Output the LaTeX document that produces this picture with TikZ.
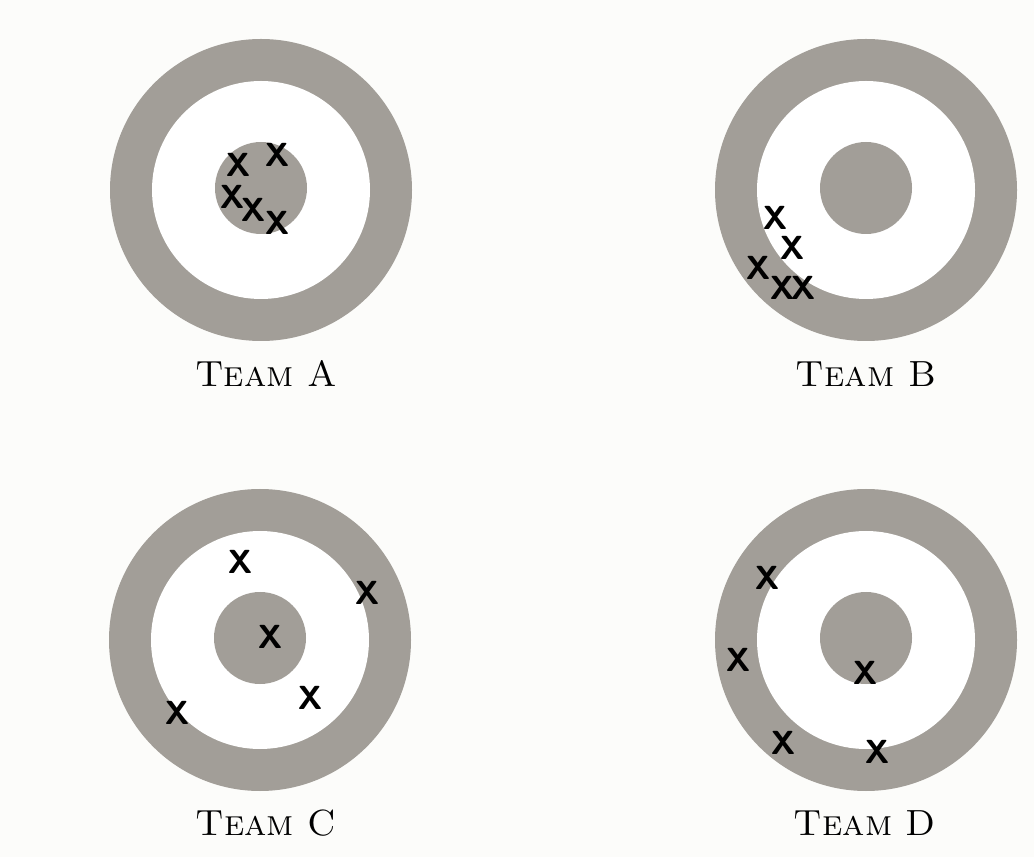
\documentclass[tikz,border=0pt]{standalone}
\usepackage{xcolor}
\usepackage{tikz}
\usetikzlibrary{positioning}
\definecolor{ringc}{HTML}{A29E98}
\definecolor{paperc}{HTML}{FCFCFA}
\tikzset{
  ring/.style={fill=ringc,draw=none},
  hole/.style={fill=white,draw=none},
  hit/.style={font=\sffamily\bfseries\fontsize{19}{19}\selectfont,inner sep=0pt,text=black},
  lbl/.style={font=\fontsize{20.7}{24}\selectfont,anchor=base,inner sep=0pt}
}

\begin{document}
\begin{tikzpicture}[x=0.02cm,y=-0.02cm]
\fill[paperc] (0,0) rectangle (1034,857);
% targets
\foreach \cx/\cy/\lx/\ly/\L in {261/190/266/387/A,866/190/866/387/B,260/640/266/835/C,866/640/865/835/D}{
  \fill[ring] (\cx,\cy) circle[radius=151];
  \fill[hole] (\cx,\cy) circle[radius=109];
  \fill[ring] (\cx,\cy-2) circle[radius=46];
  \node[lbl] (lbl\L) at (\lx,\ly) {\textsc{Team \L}};
}
% shots
\foreach \x/\y [count=\i] in {238/165,277/155,232/197,253/210,277/223}
  \node[hit] (hitA\i) at (\x,\y) {X};
\foreach \x/\y [count=\i] in {775/218,792/248,758/268,782/288,803/288}
  \node[hit] (hitB\i) at (\x,\y) {X};
\foreach \x/\y [count=\i] in {240/562,367/593,270/637,310/698,177/713}
  \node[hit] (hitC\i) at (\x,\y) {X};
\foreach \x/\y [count=\i] in {767/578,738/660,865/673,783/743,877/752}
  \node[hit] (hitD\i) at (\x,\y) {X};
\end{tikzpicture}
\end{document}
